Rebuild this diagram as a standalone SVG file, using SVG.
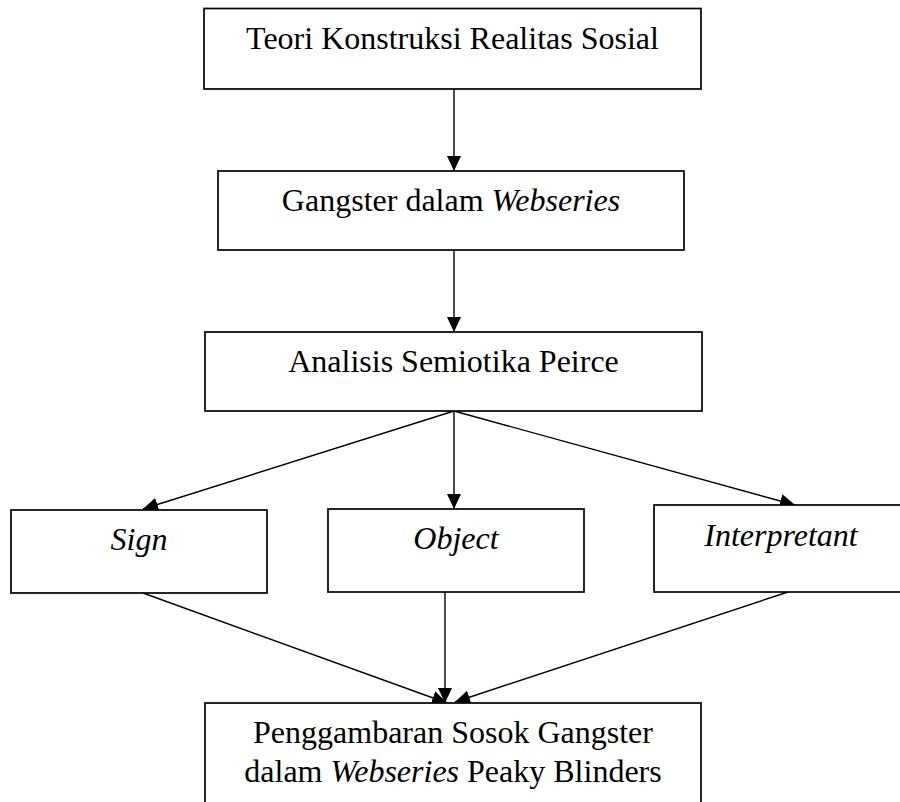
<svg xmlns="http://www.w3.org/2000/svg" width="900" height="802" viewBox="0 0 900 802">
<style>
.box{fill:#fff;stroke:#000;stroke-width:1.7}
.t{font-family:"Liberation Serif","Times New Roman",serif;font-size:32px;fill:#000;text-anchor:middle}
.i{font-style:italic}
.c{stroke:#000;stroke-width:1.4;fill:none;marker-end:url(#ah)}
</style>
<defs>
<marker id="ah" markerUnits="userSpaceOnUse" markerWidth="16" markerHeight="14" refX="15" refY="7" orient="auto">
<path d="M0,0 L15,7 L0,14 z" fill="#000"/>
</marker>
</defs>
<rect width="900" height="802" fill="#fff"/>
<g id="connectors">
<line class="c" x1="454" y1="89" x2="454" y2="171"/>
<line class="c" x1="454" y1="250" x2="454" y2="332"/>
<line class="c" x1="454" y1="411" x2="454" y2="509"/>
<line class="c" x1="454" y1="411" x2="143" y2="509"/>
<line class="c" x1="454" y1="411" x2="795" y2="505"/>
<line class="c" x1="143" y1="593" x2="447" y2="703"/>
<line class="c" x1="445" y1="592" x2="445" y2="703"/>
<line class="c" x1="788" y1="592" x2="455" y2="702"/>
</g>
<g id="n1">
<rect class="box" x="204" y="8.5" width="497" height="80.5"/>
<text class="t" x="452.5" y="49">Teori Konstruksi Realitas Sosial</text>
</g>
<g id="n2">
<rect class="box" x="218" y="171" width="466" height="79"/>
<text class="t" x="451" y="211">Gangster dalam <tspan class="i">Webseries</tspan></text>
</g>
<g id="n3">
<rect class="box" x="205" y="332" width="497" height="79"/>
<text class="t" x="453.5" y="372">Analisis Semiotika Peirce</text>
</g>
<g id="sign">
<rect class="box" x="11" y="510" width="256" height="83"/>
<text class="t i" x="139" y="550">Sign</text>
</g>
<g id="object">
<rect class="box" x="328" y="509" width="256" height="83"/>
<text class="t i" x="456" y="549">Object</text>
</g>
<g id="interpretant">
<rect class="box" x="654" y="505" width="254" height="87"/>
<text class="t i" x="781" y="546">Interpretant</text>
</g>
<g id="n4">
<rect class="box" x="205" y="703" width="496" height="110"/>
<text class="t" x="453" y="743">Penggambaran Sosok Gangster</text>
<text class="t" x="453" y="782">dalam <tspan class="i">Webseries</tspan> Peaky Blinders</text>
</g>
</svg>
